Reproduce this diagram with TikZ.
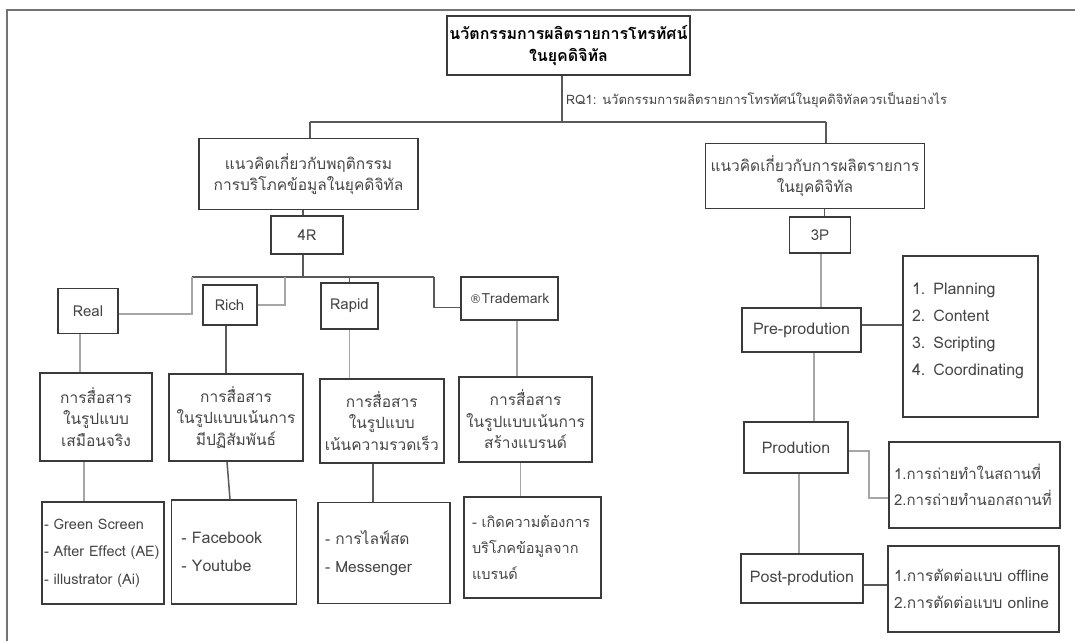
\documentclass[tikz,border=0pt]{standalone}
\usepackage{fontspec}
\setmainfont[Script=Thai]{Loma}
\newfontfamily\dejavu{DejaVu Sans}
\definecolor{txt}{HTML}{454545}
\definecolor{bord}{HTML}{3A3A3A}
\newcommand\fsz[2]{\fontsize{#1}{#2}\selectfont\lineskiplimit=-30pt\lineskip=0pt\hyphenpenalty=10000\exhyphenpenalty=10000}
\newcommand\oneline[1]{\mbox{#1}}
\begin{document}
\begin{tikzpicture}[x=1pt,y=-1pt,
  box/.style={draw=bord,line width=1.4pt,rectangle,inner sep=0pt,align=center,text=txt,
    font=\fsz{15}{21.5}},
  thick box/.style={box,line width=2pt},
  listbox/.style={box,align=left},
  conn/.style={draw=black!35,line width=1.5pt},
  connd/.style={draw=black!65,line width=1.5pt},
  frame/.style={draw=black!55,line width=1.5pt}]
\useasboundingbox (0,0) rectangle (1075,641);
\draw[frame] (7,641) -- (7,10) -- (1075,10);

% top level
\node[box,minimum width=243pt,minimum height=59pt,text=black,
  font=\bfseries\fsz{16}{22.5}] (title) at (568.5,45.5)
  {นวัตกรรมการผลิตรายการโทรทัศน์\\ในยุคดิจิทัล};
\node[anchor=west,text=txt,inner sep=0pt,font=\fsz{13}{15}] (rq) at (566,100)
  {RQ1: นวัตกรรมการผลิตรายการโทรทัศน์ในยุคดิจิทัลควรเป็นอย่างไร};
\node[box,minimum width=219pt,minimum height=70.5pt,font=\fsz{15.5}{20.5}] (L) at (308.5,174)
  {แนวคิดเกี่ยวกับพฤติกรรม\\การบริโภคข้อมูลในยุคดิจิทัล};
\node[box,minimum width=219pt,minimum height=65pt,font=\fsz{15.5}{20.5}] (R) at (815,176)
  {แนวคิดเกี่ยวกับการผลิตรายการ\\ในยุคดิจิทัล};
\node[box,minimum width=72pt,minimum height=38pt] (fourR) at (307,235) {4R};
\node[box,minimum width=61.5pt,minimum height=36pt] (threeP) at (820,235) {3P};

% 4R children
\node[box,minimum width=60pt,minimum height=45.5pt] (real) at (88,311) {Real};
\node[thick box,minimum width=54pt,minimum height=40.5pt] (rich) at (229.5,305) {Rich};
\node[thick box,minimum width=57pt,minimum height=46pt] (rapid) at (349.5,306) {Rapid};
\node[thick box,minimum width=97pt,minimum height=43pt,font=\fsz{14}{16}] (tm) at (509.5,298.5) {{\dejavu\fontsize{12}{14}\selectfont ®}Trademark};

\node[thick box,minimum width=112.5pt,minimum height=88pt,font=\fsz{15.5}{21.5}] (m1) at (96,417)
  {การสื่อสาร\\ในรูปแบบ\\เสมือนจริง};
\node[box,minimum width=134pt,minimum height=87pt,font=\fsz{15.5}{21.5}] (m2) at (236,417.5)
  {การสื่อสาร\\ในรูปแบบเน้นการ\\มีปฏิสัมพันธ์};
\node[thick box,minimum width=123.5pt,minimum height=84.5pt,font=\fsz{15.5}{21.5}] (m3) at (381.75,420.75)
  {การสื่อสาร\\ในรูปแบบ\\เน้นความรวดเร็ว};
\node[box,minimum width=133pt,minimum height=85pt,font=\fsz{15.5}{21.5}] (m4) at (525.5,419.5)
  {การสื่อสาร\\ในรูปแบบเน้นการ\\สร้างแบรนด์};

\node[listbox,inner xsep=2pt,text width=118pt,minimum height=102pt,
  font=\fsz{14.5}{27.5}] (b1) at (103,553)
  {\oneline{- Green Screen}\\\oneline{- After Effect (AE)}\\\oneline{- illustrator (Ai)}};
\node[listbox,inner xsep=10pt,text width=105.5pt,minimum height=104pt,
  font=\fsz{16}{28.5}] (b2) at (234,552)
  {\oneline{- Facebook}\\\oneline{- Youtube}};
\node[listbox,inner xsep=7pt,text width=118pt,minimum height=101.5pt,
  font=\fsz{15.5}{28.5}] (b3) at (384,553)
  {\oneline{- การไลฟ์สด}\\\oneline{- Messenger}};
\node[listbox,inner xsep=8pt,text width=121pt,minimum height=101pt,
  font=\fsz{14.5}{26}] (b4) at (532.5,547.5)
  {\oneline{- เกิดความต้องการ}\\\oneline{บริโภคข้อมูลจาก}\\\oneline{แบรนด์}};

% 3P children
\node[thick box,minimum width=119pt,minimum height=44pt,font=\fsz{16}{20}] (pre) at (801.5,330) {Pre-prodution};
\node[listbox,inner xsep=9pt,text width=117pt,minimum height=161pt,
  font=\fsz{16}{27}] (plan) at (970.5,336.5)
  {\oneline{1. Planning}\\\oneline{2. Content}\\\oneline{3. Scripting}\\\oneline{4. Coordinating}\\[-12pt]\mbox{}};
\node[thick box,minimum width=104pt,minimum height=51pt,font=\fsz{16}{20}] (prod) at (796,447.5) {Prodution};
\node[listbox,inner xsep=5pt,text width=161pt,minimum height=86pt,
  font=\fsz{15}{26}] (prodl) at (974.5,485)
  {\oneline{1.การถ่ายทำในสถานที่}\\\oneline{2.การถ่ายทำนอกสถานที่}};
\node[box,minimum width=122pt,minimum height=49pt,font=\fsz{16}{20}] (post) at (802,578.5) {Post-prodution};
\node[listbox,inner xsep=6pt,text width=159pt,minimum height=86pt,
  font=\fsz{15.5}{27}] (postl) at (973.5,589)
  {\oneline{1.การตัดต่อแบบ offline}\\\oneline{2.การตัดต่อแบบ online}};

% junctions
\coordinate (jt) at (562,122);
\coordinate (jl) at (310,122);
\coordinate (jr) at (826,122);
\coordinate (j4) at (303,277);
\coordinate (ja) at (192,277);
\coordinate (jb) at (434,277);
\coordinate (jrich) at (285,277);
\coordinate (jp) at (869,498);

% connectors top
\draw[connd] (title.south -| jt) -- (jt);
\draw[connd] (jl) -- (jr);
\draw[connd] (jl) -- (L.north -| jl);
\draw[connd] (jr) -- (R.north -| jr);
\draw[connd] (L.south -| j4) -- (fourR.north -| j4);
\draw[connd] (fourR.south -| j4) -- (j4);
\draw[connd] (ja) -- (jb);
\draw[conn] (ja) |- ([yshift=-3pt]real.east);
\draw[conn] (jrich) |- (rich.east);
\draw[connd] (rapid.north) -- (rapid.north |- ja);
\draw[connd] (jb) |- ([yshift=-9pt]tm.west);

% 4R columns
\draw[conn] ([xshift=-8pt]real.south) -- ([xshift=-16pt]m1.north);
\draw[conn] ([xshift=-12pt]m1.south) -- ([xshift=-19pt]b1.north);
\draw[connd] ([xshift=-3.5pt]rich.south) -- ([xshift=-10pt]m2.north);
\draw[connd] ([xshift=-9pt]m2.south) -- ([xshift=-4pt]b2.north);
\draw[conn] (rapid.south) -- ([xshift=-32.25pt]m3.north);
\draw[connd] ([xshift=-8.75pt]m3.south) -- ([xshift=-11pt]b3.north);
\draw[conn] ([xshift=7.5pt]tm.south) -- ([xshift=-8.5pt]m4.north);
\draw[conn] ([xshift=-4.8pt]m4.south) -- ([xshift=-11.8pt]b4.north);

% 3P column
\draw[connd] ([xshift=9.7pt]R.south) -- ([xshift=4.7pt]threeP.north);
\draw[conn] ([xshift=1pt]threeP.south) -- ([xshift=19.5pt]pre.north);
\draw[connd] ([yshift=5pt]pre.east) -- ([yshift=5pt]pre.east -| plan.west);
\draw[conn] ([xshift=12.5pt]pre.south) -- ([xshift=18pt]prod.north);
\draw[conn] ([yshift=-3.5pt]prod.east) -| (jp) -- (jp -| prodl.west);
\draw[conn] ([xshift=3pt]prod.south) -- ([xshift=-3pt]post.north);
\draw[connd] ([yshift=-6.5pt]post.east) -- ([yshift=-6.5pt]post.east -| postl.west);
\end{tikzpicture}
\end{document}
